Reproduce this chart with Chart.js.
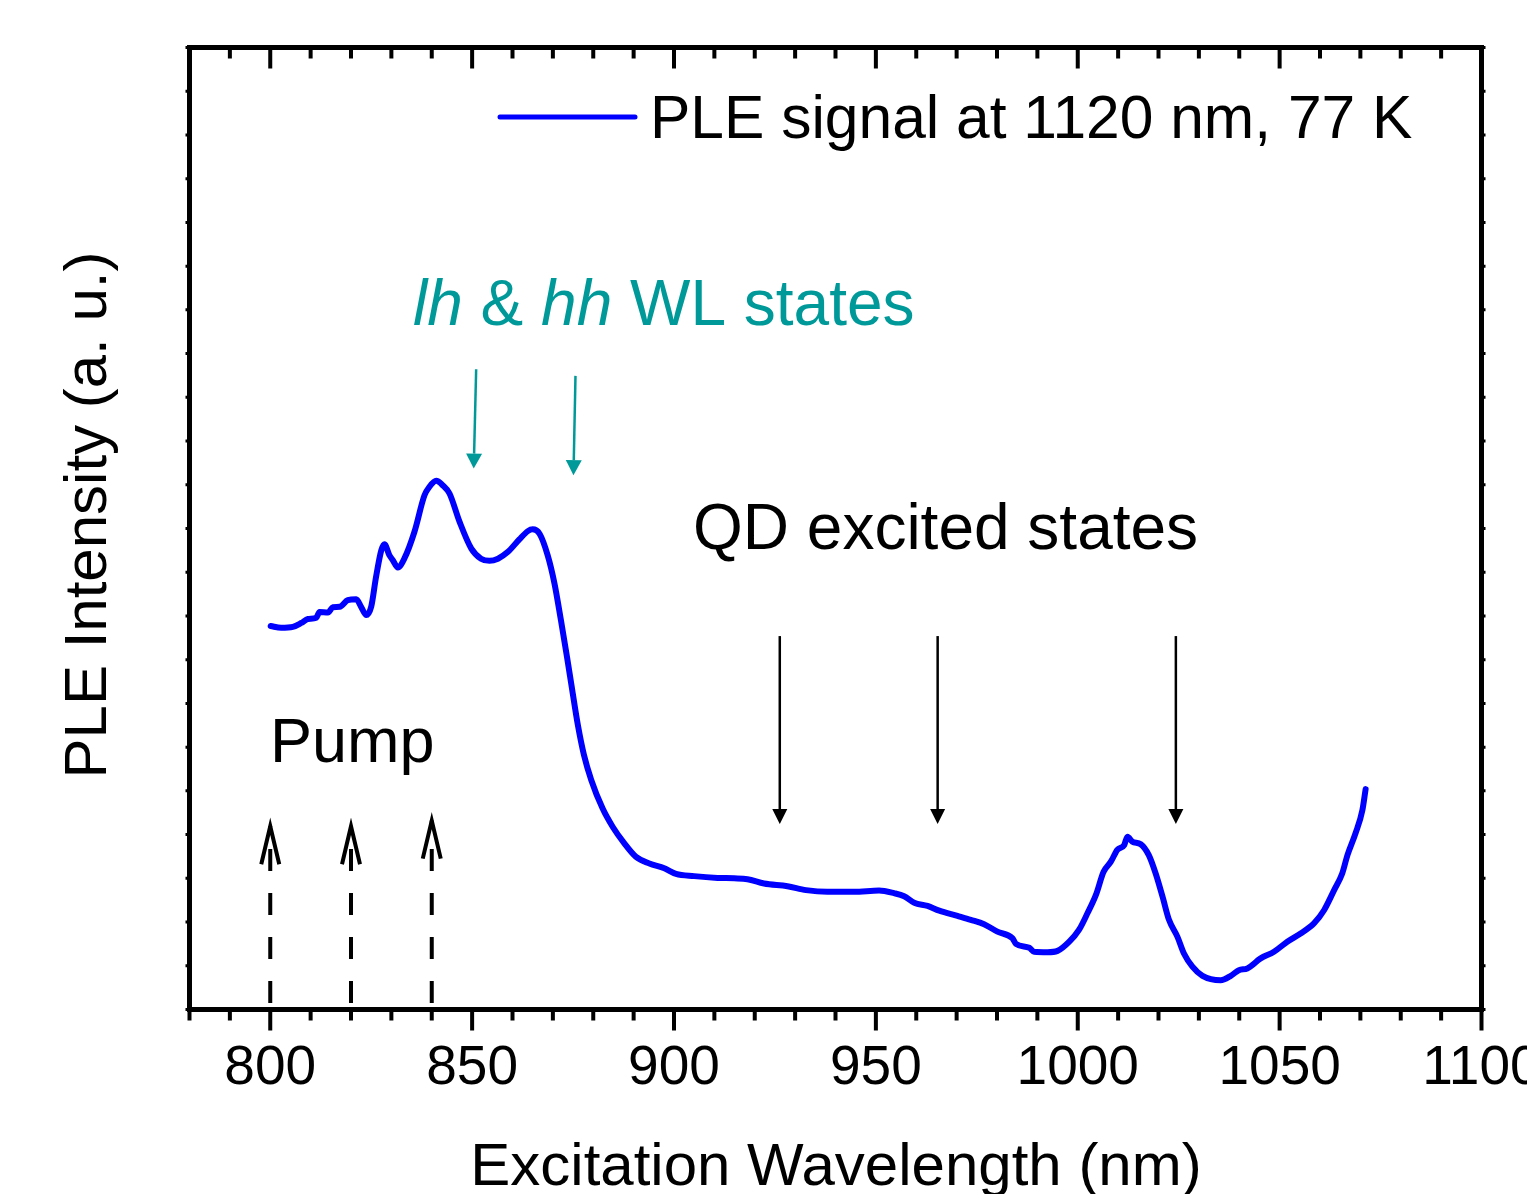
<!DOCTYPE html>
<html>
<head>
<meta charset="utf-8">
<script src="https://cdn.jsdelivr.net/npm/chart.js"></script>
<style>
  html, body { margin: 0; padding: 0; background: #fff; }
  canvas { display: block; }
</style>
</head>
<body>
<canvas id="pleChart" width="1527" height="1194"></canvas>
<script>
// PLE spectrum (intensity in arbitrary units, 0..22 = frame height)
const wavelength = [
  800.1, 802.7, 805.6, 807.7, 809.3, 811.4, 812.2, 814.3, 815.5, 817.2,
  819.2, 821.3, 822.5, 823.8, 825.0, 826.2, 827.5, 828.3, 829.5, 830.4,
  831.6, 833.2, 835.7, 838.2, 839.4, 841.1, 842.7, 844.4, 846.9, 849.8,
  852.2, 854.3, 856.4, 858.8, 861.7, 863.8, 865.0, 866.7, 868.7, 870.4,
  872.0, 873.5, 874.8, 876.2, 877.7, 879.5, 882.3, 884.8, 887.7, 890.6,
  893.9, 897.6, 900.5, 905.0, 910.8, 914.9, 918.2, 922.3, 928.1, 932.7,
  938.0, 944.6, 950.8, 954.5, 957.0, 959.5, 962.8, 965.7, 970.2, 973.5,
  976.8, 980.1, 983.8, 984.7, 988.0, 989.2, 992.5, 995.0, 997.9, 1000.3,
  1002.4, 1004.5, 1006.4, 1008.2, 1009.8, 1011.5, 1012.3, 1013.5, 1015.6, 1017.6,
  1019.3, 1021.0, 1022.6, 1024.7, 1026.3, 1028.4, 1030.9, 1035.4, 1037.9, 1039.9,
  1042.0, 1045.3, 1048.6, 1051.9, 1055.2, 1058.5, 1061.0, 1063.5, 1065.5, 1066.8,
  1068.8, 1070.5, 1071.3
];
const intensity = [
  8.77, 8.73, 8.75, 8.84, 8.93, 8.96, 9.09, 9.08, 9.20, 9.21,
  9.36, 9.38, 9.21, 9.02, 9.21, 9.89, 10.50, 10.64, 10.39, 10.27,
  10.11, 10.31, 10.92, 11.76, 11.95, 12.09, 11.99, 11.80, 11.15, 10.54,
  10.31, 10.26, 10.31, 10.46, 10.75, 10.94, 10.98, 10.88, 10.39, 9.74,
  8.90, 8.06, 7.30, 6.50, 5.82, 5.25, 4.60, 4.18, 3.80, 3.49,
  3.34, 3.23, 3.10, 3.05, 3.01, 3.00, 2.98, 2.88, 2.82, 2.73,
  2.69, 2.69, 2.72, 2.66, 2.59, 2.44, 2.37, 2.26, 2.14, 2.05,
  1.95, 1.78, 1.63, 1.50, 1.41, 1.32, 1.31, 1.34, 1.55, 1.82,
  2.20, 2.62, 3.15, 3.38, 3.65, 3.76, 3.95, 3.84, 3.78, 3.53,
  3.11, 2.58, 2.05, 1.66, 1.28, 0.98, 0.77, 0.67, 0.77, 0.90,
  0.94, 1.17, 1.32, 1.55, 1.74, 1.97, 2.27, 2.73, 3.11, 3.53,
  4.03, 4.56, 5.04
];
const xTickValues = [800, 850, 900, 950, 1000, 1050, 1100];
const seriesLabel = 'PLE signal at 1120 nm, 77 K';

// annotation arrows (data coordinates)
const pumpArrowX = [800, 820, 840];
const pumpArrowBase = [0.15, 0.15, 0.15];
const pumpArrowTip = [4.19, 4.19, 4.32];
const wlArrowStartX = [851.0, 875.6];
const wlArrowEndX = [850.4, 875.1];
const wlArrowTop = [14.64, 14.49];
const wlArrowTip = [12.37, 12.22];
const qdArrowX = [926.2, 965.3, 1024.3];
const qdArrowTop = [8.54, 8.54, 8.54];
const qdArrowTip = [4.24, 4.24, 4.24];

const FONT = "'Liberation Sans', Arial, sans-serif";
const TEAL = '#009999';

function filledArrow(ctx, x0, y0, x1, y1, color, lw, headW, headL) {
  const ang = Math.atan2(y1 - y0, x1 - x0);
  const bx = x1 - headL * Math.cos(ang), by = y1 - headL * Math.sin(ang);
  ctx.strokeStyle = color;
  ctx.fillStyle = color;
  ctx.lineWidth = lw;
  ctx.setLineDash([]);
  ctx.beginPath();
  ctx.moveTo(x0, y0);
  ctx.lineTo(bx, by);
  ctx.stroke();
  const nx = -Math.sin(ang) * headW / 2, ny = Math.cos(ang) * headW / 2;
  ctx.beginPath();
  ctx.moveTo(x1, y1);
  ctx.lineTo(bx + nx, by + ny);
  ctx.lineTo(bx - nx, by - ny);
  ctx.closePath();
  ctx.fill();
}

const decorations = {
  id: 'decorations',
  afterDraw(chart) {
    const {ctx, chartArea: a, scales: {x, y}} = chart;
    ctx.save();

    // x ticks, bottom outward and top inward
    ctx.strokeStyle = '#000';
    ctx.lineWidth = 4;
    for (let v = x.min; v <= x.max; v += 10) {
      const px = x.getPixelForValue(v);
      const len = v % 50 === 0 ? 21 : 11;
      ctx.beginPath();
      ctx.moveTo(px, a.bottom); ctx.lineTo(px, a.bottom + len);
      ctx.moveTo(px, a.top); ctx.lineTo(px, a.top + len);
      ctx.stroke();
    }
    // tiny y ticks on both sides
    ctx.lineWidth = 3;
    y.ticks.forEach(t => {
      const py = y.getPixelForValue(t.value);
      ctx.beginPath();
      ctx.moveTo(a.left - 4, py); ctx.lineTo(a.left, py);
      ctx.moveTo(a.right, py); ctx.lineTo(a.right + 4, py);
      ctx.stroke();
    });
    // frame
    ctx.lineWidth = 5;
    ctx.lineJoin = 'miter';
    ctx.strokeRect(a.left, a.top, a.right - a.left, a.bottom - a.top);

    // pump arrows: dashed shafts with open heads
    pumpArrowX.forEach((w, i) => {
      const px = x.getPixelForValue(w);
      const yb = y.getPixelForValue(pumpArrowBase[i]);
      const yt = y.getPixelForValue(pumpArrowTip[i]);
      ctx.strokeStyle = '#000';
      ctx.lineWidth = 4;
      ctx.lineCap = 'butt';
      ctx.setLineDash([22, 22]);
      ctx.beginPath();
      ctx.moveTo(px, yb); ctx.lineTo(px, yt);
      ctx.stroke();
      ctx.setLineDash([]);
      ctx.lineJoin = 'miter';
      ctx.beginPath();
      ctx.moveTo(px - 9, yt + 38); ctx.lineTo(px, yt); ctx.lineTo(px + 9, yt + 38);
      ctx.stroke();
    });

    // WL arrows (teal)
    wlArrowStartX.forEach((w, i) => {
      filledArrow(ctx, x.getPixelForValue(w), y.getPixelForValue(wlArrowTop[i]),
        x.getPixelForValue(wlArrowEndX[i]), y.getPixelForValue(wlArrowTip[i]), TEAL, 2.5, 16, 15);
    });
    // QD excited state arrows
    qdArrowX.forEach((w, i) => {
      const px = x.getPixelForValue(w);
      filledArrow(ctx, px, y.getPixelForValue(qdArrowTop[i]), px, y.getPixelForValue(qdArrowTip[i]), '#000', 2.5, 15, 15);
    });

    // legend
    ctx.strokeStyle = '#0000ff';
    ctx.lineWidth = 5;
    ctx.lineCap = 'round';
    ctx.beginPath();
    ctx.moveTo(500, 117); ctx.lineTo(635, 117);
    ctx.stroke();
    ctx.fillStyle = '#000';
    ctx.textBaseline = 'alphabetic';
    ctx.textAlign = 'left';
    ctx.font = '60.5px ' + FONT;
    ctx.fillText(seriesLabel, 650, 138);

    // annotations
    ctx.font = '64px ' + FONT;
    ctx.fillText('QD excited states', 693, 549);
    ctx.font = '63px ' + FONT;
    ctx.fillText('Pump', 270, 762);

    const parts = [['lh', true], [' & ', false], ['hh', true], [' WL states', false]];
    let tx = 413;
    ctx.fillStyle = TEAL;
    parts.forEach(([t, it]) => {
      ctx.font = (it ? 'italic ' : '') + '64px ' + FONT;
      ctx.fillText(t, tx, 325);
      tx += ctx.measureText(t).width;
    });

    // axis titles
    ctx.fillStyle = '#000';
    ctx.font = '60px ' + FONT;
    ctx.textAlign = 'center';
    ctx.fillText('Excitation Wavelength (nm)', 836, 1185);
    ctx.translate(106, 515);
    ctx.rotate(-Math.PI / 2);
    ctx.fillText('PLE Intensity (a. u.)', 0, 0);

    ctx.restore();
  }
};

new Chart(document.getElementById('pleChart'), {
  type: 'line',
  data: {
    datasets: [{
      label: seriesLabel,
      data: wavelength.map((w, i) => ({x: w, y: intensity[i]})),
      borderColor: '#0000ff',
      borderWidth: 6,
      pointRadius: 0,
      fill: false,
      cubicInterpolationMode: 'monotone',
      borderCapStyle: 'round',
      borderJoinStyle: 'round'
    }]
  },
  options: {
    responsive: false,
    devicePixelRatio: 1,
    animation: false,
    layout: { padding: { top: 47.5, right: 45.5, bottom: 0, left: 0 } },
    plugins: { legend: { display: false }, tooltip: { enabled: false } },
    scales: {
      x: {
        type: 'linear',
        min: 780,
        max: 1100,
        afterBuildTicks: s => { s.ticks = xTickValues.map(v => ({value: v})); },
        afterFit: s => { s.height = 184.5; s.paddingLeft = 0; s.paddingRight = 0; },
        ticks: {
          color: '#000',
          font: { family: FONT, size: 55, lineHeight: 1.2 },
          padding: 26,
          maxRotation: 0,
          autoSkip: false,
          callback: v => String(v)
        },
        grid: { display: false, drawTicks: false },
        border: { display: false }
      },
      y: {
        min: 0,
        max: 22,
        afterFit: s => { s.width = 189.5; },
        ticks: { display: false, stepSize: 1 },
        grid: { display: false, drawTicks: false },
        border: { display: false }
      }
    }
  },
  plugins: [decorations]
});
</script>
</body>
</html>
